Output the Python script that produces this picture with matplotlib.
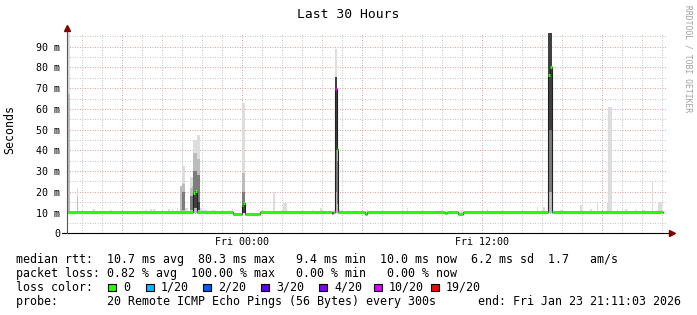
import matplotlib
matplotlib.use("Agg")
import matplotlib.pyplot as plt
import numpy as np
from matplotlib.ticker import MultipleLocator, FuncFormatter, FixedLocator
from matplotlib.patches import Rectangle

# time axis: hours relative to Fri 00:00, 5 minute steps
t_start, t_end = -8.77, 21.23
step = 1 / 12

# smoke (ping spread), light tier
light_t = [-8.75, -8.667, -8.25, -7.417, -7.0, -6.583, -5.667, -5.0, -4.833, -4.583, -4.417,
           -3.667, -3.5, -3.25, -3.083, -3.0, -2.917, -2.833, -2.75, -2.583, -2.5, -2.417,
           -2.333, -2.25, -2.167, -2.083, -1.917, -1.833, -1.5, -1.417, -0.5, 0.0, 0.083,
           1.583, 2.083, 2.167, 3.5, 3.917, 4.667, 4.75, 4.833, 6.25, 8.25, 10.917, 12.25,
           14.75, 15.083, 15.333, 15.417, 15.917, 16.917, 17.417, 17.75, 18.25, 18.333,
           18.417, 18.75, 19.0, 19.167, 19.667, 20.083, 20.5, 20.833, 20.917]
light_hi = [96.6, 96.6, 21.8, 11.7, 11.3, 11.3, 10.9, 11.2, 11.2, 11.9, 11.9,
            11.5, 11.5, 12.0, 23.0, 44.2, 32.6, 12.0, 12.0, 27.3, 27.3, 45.0,
            45.0, 47.4, 47.4, 12.0, 11.0, 11.0, 11.0, 11.0, 11.5, 62.7, 62.7,
            20.0, 14.4, 14.4, 11.0, 12.0, 89.0, 51.4, 11.5, 11.0, 12.2, 10.8, 11.5,
            12.7, 12.5, 96.6, 96.6, 11.0, 13.6, 11.5, 15.2, 15.2, 61.0,
            61.0, 11.5, 11.5, 11.5, 11.0, 11.0, 24.9, 15.0, 15.0]

# grey tier
grey_t = [-8.75, -8.667, -8.25, -3.083, -3.0, -2.917, -2.583, -2.5, -2.417, -2.333, -2.25,
          -2.167, 0.0, 0.083, 4.667, 4.75, 15.333, 15.417]
grey_lo = [10, 10, 10, 10, 10, 10, 10, 10, 10, 10, 10, 10, 10, 10, 10, 10, 10, 10]
grey_hi = [67.0, 67.0, 17.7, 23.0, 24.3, 24.0, 22.0, 23.0, 38.7, 38.7, 36.0,
           36.0, 29.0, 29.0, 75.5, 45.0, 96.6, 96.6]

# dark tier
dark_t = [-3.0, -2.917, -2.583, -2.5, -2.417, -2.333, -2.25, -2.167, 0.0, 0.083, 4.667, 4.75,
          15.333, 15.417]
dark_lo = [11, 11, 11, 11, 12, 12, 11, 11, 10, 10, 20, 14, 20, 20]
dark_hi = [20, 20, 18, 18, 30, 30, 28, 28, 20, 20, 75.5, 35, 96.6, 96.6]

# core tier
core_t = [-2.417, -2.333, -2.25, -2.167, 0.0, 0.083, 4.667, 15.333, 15.417]
core_lo = [12, 12, 12, 11, 10, 10, 40, 50, 50]
core_hi = [20, 20, 17, 15, 14, 14, 75.5, 96.6, 96.6]

# median rtt segments (ms) and loss colour index
med_start = [-8.77, -2.458, -2.375, -2.292, -0.46, -0.042, 0.042, 0.125, 0.9, 4.458, 4.542,
             4.625, 4.708, 4.792, 6.125, 6.208, 10.125, 10.208, 10.792, 11.042, 15.292,
             15.375, 15.458]
med_end = [-2.458, -2.375, -2.292, -0.46, -0.042, 0.042, 0.125, 0.9, 4.458, 4.542, 4.625,
           4.708, 4.792, 6.125, 6.208, 10.125, 10.208, 10.792, 11.042, 15.292, 15.375,
           15.458, 21.04]
med_value = [10.2, 19.6, 20.4, 10.2, 9.5, 13.7, 14.6, 9.5, 10.2, 10.0, 10.2,
             69.6, 40.7, 10.2, 9.4, 10.2, 9.6, 10.2, 9.5, 10.2, 76.4,
             80.4, 10.2]
med_loss = [0, 0, 0, 0, 0, 0, 0, 0, 0, 5, 0, 5, 0, 0, 0, 0, 0, 0, 0, 0, 0, 0, 0]

loss_labels = ["0", "1/20", "2/20", "3/20", "4/20", "10/20", "19/20"]
loss_colors = ["#26ff00", "#00b8ff", "#0059ff", "#5e00ff", "#7e00ff", "#dd00ff", "#ff0000"]

W, H = 697, 315
fig = plt.figure(figsize=(W / 100, H / 100), dpi=100)
fig.patch.set_facecolor("white")


def fx(x):
    return x / W


def fy(y):
    return 1 - y / H


ax_l, ax_r, ax_b, ax_t = 67, 667, 233.3, 33
ax = fig.add_axes([fx(ax_l), fy(ax_b), (ax_r - ax_l) / W, (ax_b - ax_t) / H])
ax.set_xlim(t_start, t_end)
ax.set_ylim(0, 96.6)

mono = "DejaVu Sans Mono"

# grid
ax.set_axisbelow(True)
ax.xaxis.set_major_locator(FixedLocator([-6, 0, 6, 12, 18]))
ax.xaxis.set_minor_locator(MultipleLocator(1))
ax.yaxis.set_major_locator(MultipleLocator(10))
ax.yaxis.set_minor_locator(MultipleLocator(5))
ax.grid(which="minor", color="#c8c8c8", lw=0.72, ls=(0, (1, 1.5)))
ax.grid(which="major", color="#e8a0a0", lw=0.72, ls=(0, (1, 1.5)))
ax.xaxis.set_major_formatter(FuncFormatter(lambda v, p: {0: "Fri 00:00", 12: "Fri 12:00"}.get(int(round(v)), "")))
ax.yaxis.set_major_formatter(FuncFormatter(lambda v, p: "0" if v == 0 else "%d m" % v))
ax.tick_params(which="both", length=0)
ax.tick_params(axis="x", pad=3)
ax.tick_params(axis="y", pad=5)
for lab in ax.get_xticklabels() + ax.get_yticklabels():
    lab.set_fontfamily(mono)
    lab.set_fontsize(7.2)
for s in ax.spines.values():
    s.set_visible(False)

# smoke
ax.bar(light_t, np.array(light_hi) - 10, bottom=10, width=step, color="#dddddd", lw=0, zorder=2)
ax.bar(grey_t, np.array(grey_hi) - np.array(grey_lo), bottom=grey_lo, width=step,
       color="#bcbcbc", lw=0, zorder=3)
ax.bar(dark_t, np.array(dark_hi) - np.array(dark_lo), bottom=dark_lo, width=step,
       color="#7c7c7c", lw=0, zorder=4)
ax.bar(core_t, np.array(core_hi) - np.array(core_lo), bottom=core_lo, width=step,
       color="#404040", lw=0, zorder=5)

# median: thin dark line, then loss coloured segments
mx = np.column_stack([med_start, med_end]).ravel()
my = np.repeat(med_value, 2)
ax.plot(mx, my, color="#202020", lw=0.8, zorder=6)
ax.hlines(med_value, med_start, med_end, colors=[loss_colors[i] for i in med_loss],
          lw=2.2, zorder=7)

# axis lines with arrows
ax.plot([-5 / 600, 1 + 3 / 600], [0, 0], color="black", lw=0.8, transform=ax.transAxes,
        clip_on=False, zorder=8)
ax.plot([0, 0], [0, 1 + 3 / 200], color="#555555", lw=0.8, transform=ax.transAxes,
        clip_on=False, zorder=8)
ax.plot([1 + 5 / 600], [0], marker=">", ms=4, color="#800000", transform=ax.transAxes,
        clip_on=False, zorder=9)
ax.plot([0], [1 + 5 / 200], marker="^", ms=4, color="#800000", transform=ax.transAxes,
        clip_on=False, zorder=9)

# titles
fig.text(fx(348), fy(14), "Last 30 Hours", family=mono, fontsize=9.4, ha="center", va="center")
fig.text(fx(10), fy(130), "Seconds", family=mono, fontsize=8.4, rotation=90, ha="center", va="center")
fig.text(fx(688), fy(59), "RRDTOOL / TOBI OETIKER", family=mono, fontsize=5.8, rotation=270,
         ha="center", va="center", color="#a0a0a0")

# legend lines
fs = 8.4
fig.text(fx(16), fy(260), "median rtt:  10.7 ms avg  80.3 ms max   9.4 ms min  10.0 ms now  6.2 ms sd  1.7   am/s",
         family=mono, fontsize=fs, va="center")
fig.text(fx(16), fy(273.5), "packet loss: 0.82 % avg  100.00 % max   0.00 % min   0.00 % now",
         family=mono, fontsize=fs, va="center")
fig.text(fx(16), fy(287.3), "loss color:", family=mono, fontsize=fs, va="center")
box_x = [108, 146, 203, 261, 319, 374, 431]
for bx, lab, col in zip(box_x, loss_labels, loss_colors):
    fig.patches.append(Rectangle((fx(bx), fy(291)), 8 / W, 7 / H, transform=fig.transFigure,
                                 facecolor=col, edgecolor="black", lw=0.8))
    fig.text(fx(bx + 15), fy(287.3), lab, family=mono, fontsize=fs, va="center")
fig.text(fx(16), fy(301), "probe:       20 Remote ICMP Echo Pings (56 Bytes) every 300s      end: Fri Jan 23 21:11:03 2026",
         family=mono, fontsize=fs, va="center")

fig.savefig("out.png", dpi=100)
